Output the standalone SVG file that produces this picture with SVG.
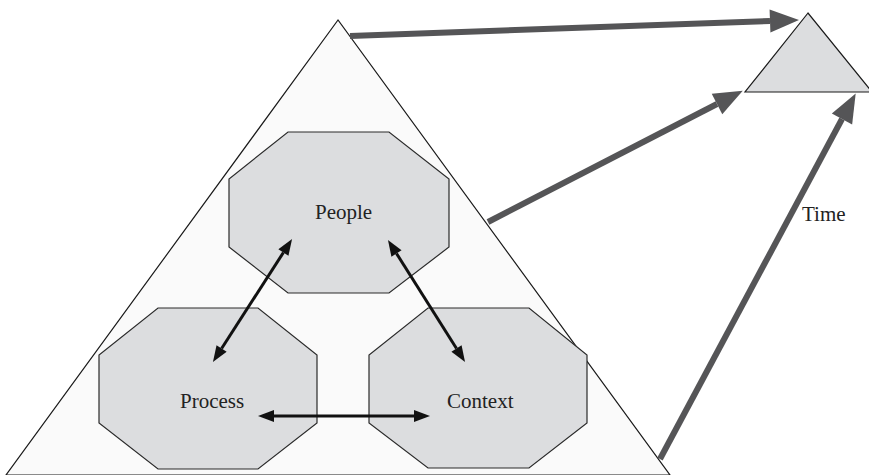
<svg xmlns="http://www.w3.org/2000/svg" width="869" height="475" viewBox="0 0 869 475">
<defs>
<style>
.tri{fill:#fafafa;stroke:#1a1a1a;stroke-width:1.2}
.small{fill:#dcdddf;stroke:#1a1a1a;stroke-width:1.2}
.oct{fill:#dcdddf;stroke:#2a2a2a;stroke-width:1.2}
.lbl{font-family:"Liberation Serif","Times New Roman",serif;font-size:21px;fill:#222}
.thick{stroke:#555557;stroke-width:6;fill:none;marker-end:url(#bigHead)}
.thin{stroke:#111;stroke-width:3;fill:none;marker-start:url(#smallHead);marker-end:url(#smallHead)}
</style>
<marker id="bigHead" markerUnits="userSpaceOnUse" markerWidth="30" markerHeight="24" refX="0" refY="11.5" orient="auto" overflow="visible">
<path d="M0,0 L29,11.5 L0,23 z" fill="#555557"/>
</marker>
<marker id="smallHead" markerUnits="userSpaceOnUse" markerWidth="17" markerHeight="13" refX="0" refY="6" orient="auto-start-reverse" overflow="visible">
<path d="M0,0 L16,6 L0,12 z" fill="#111"/>
</marker>
</defs>
<g id="big-triangle"><polygon class="tri" points="338,20 6,475 670,475"/></g>
<g id="small-triangle"><polygon class="small" points="808,13 745,92 872,92"/></g>
<g id="people"><polygon class="oct" points="288,132 389,132 449,179 449,247 389,293 288,293 229,247 229,179"/><text class="lbl" x="315" y="219">People</text></g>
<g id="process"><polygon class="oct" points="158,308 258,308 317,355 317,423 258,469 158,469 99,423 99,355"/><text class="lbl" x="180" y="408">Process</text></g>
<g id="context"><polygon class="oct" points="428,308 529,308 587,355 587,423 529,468 428,468 369,423 369,355"/><text class="lbl" x="447" y="408">Context</text></g>
<g id="connectors">
<line class="thick" x1="350" y1="36" x2="770" y2="21"/>
<line class="thick" x1="488" y1="222" x2="717" y2="104"/>
<line class="thick" x1="660" y1="459" x2="842" y2="119"/>
<line class="thin" x1="221.6" y1="348.5" x2="283.4" y2="252.5"/>
<line class="thin" x1="396.5" y1="253.5" x2="456.5" y2="348.5"/>
<line class="thin" x1="274" y1="416" x2="414" y2="416"/>
</g>
<g id="time-label"><text class="lbl" x="802" y="221">Time</text></g>
</svg>
